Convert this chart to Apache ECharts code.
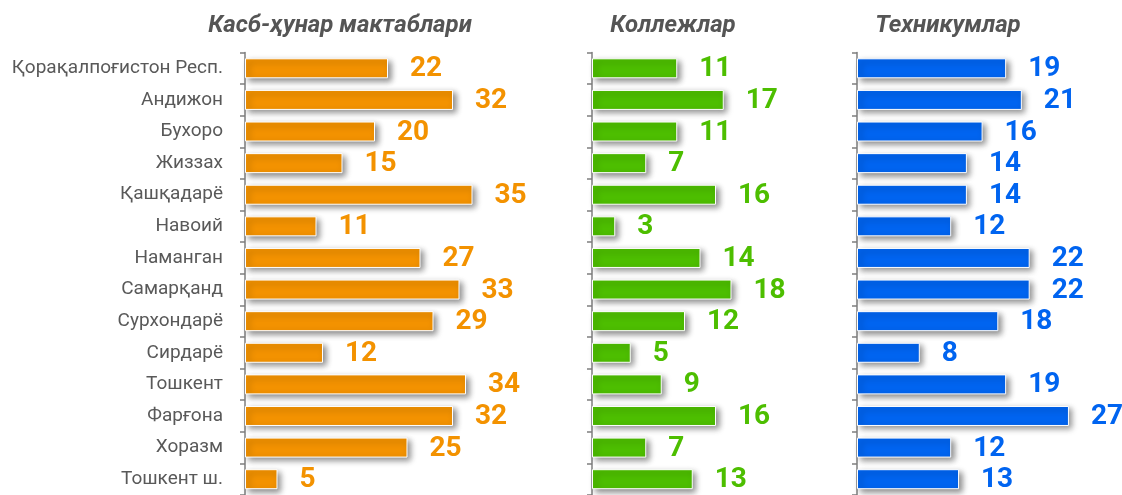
<!DOCTYPE html>
<html>
<head>
<meta charset="utf-8">
<script src="https://cdn.jsdelivr.net/npm/echarts@6/dist/echarts.min.js"></script>
<style>
html, body { margin: 0; padding: 0; background: #fff; }
#chart { width: 1122px; height: 495px; }
</style>
</head>
<body>
<div id="chart"></div>
<script>
// viloyatlar
var regions = ['Қорақалпоғистон Респ.', 'Андижон', 'Бухоро', 'Жиззах', 'Қашқадарё', 'Навоий', 'Наманган',
  'Самарқанд', 'Сурхондарё', 'Сирдарё', 'Тошкент', 'Фарғона', 'Хоразм', 'Тошкент ш.'];
var titles = ['Касб-ҳунар мактаблари', 'Коллежлар', 'Техникумлар'];
var kasbHunar = [22, 32, 20, 15, 35, 11, 27, 33, 29, 12, 34, 32, 25, 5];
var kollej = [11, 17, 11, 7, 16, 3, 14, 18, 12, 5, 9, 16, 7, 13];
var texnikum = [19, 21, 16, 14, 14, 12, 22, 22, 18, 8, 19, 27, 12, 13];

var colors = ['#F39200', '#4DBE00', '#0064F0'];

var myChart = echarts.init(document.getElementById('chart'));

function yAx(idx, showLabels) {
  return {
    type: 'category', gridIndex: idx, inverse: true, data: regions,
    axisLine: { lineStyle: { color: '#7f7f7f', width: 1.5 } },
    axisTick: { show: true, length: 5, lineStyle: { color: '#7f7f7f', width: 1.5 } },
    axisLabel: { show: showLabels, color: '#595959', fontSize: 19, margin: 22, fontFamily: 'Roboto', padding: [2, 0, 0, 0] }
  };
}
function xAx(idx, max) {
  return { type: 'value', gridIndex: idx, min: 0, max: max, show: false };
}
function bar(idx, data) {
  return {
    type: 'bar', xAxisIndex: idx, yAxisIndex: idx, data: data, barWidth: 20,
    itemStyle: {
      color: colors[idx], borderColor: '#fff', borderWidth: 1,
      shadowColor: 'rgba(0,0,0,0.45)', shadowBlur: 6, shadowOffsetX: 3, shadowOffsetY: 3
    },
    label: {
      show: true, position: 'right', distance: 22, offset: [0, 1], color: colors[idx],
      fontSize: 28, fontWeight: 'bold', fontFamily: 'Roboto'
    }
  };
}

var option = {
  animation: false,
  title: [
    { text: titles[0], left: 335, top: 9, textAlign: 'center' },
    { text: titles[1], left: 668, top: 9, textAlign: 'center' },
    { text: titles[2], left: 943, top: 9, textAlign: 'center' }
  ].map(function (t) {
    t.textStyle = { color: '#555', fontSize: 24, fontWeight: 'bold', fontStyle: 'italic', fontFamily: 'Roboto' };
    return t;
  }),
  grid: [
    { left: 245, top: 52.5, width: 260, height: 445 },
    { left: 592, top: 52.5, width: 155, height: 445 },
    { left: 857, top: 52.5, width: 235.5, height: 445 }
  ],
  xAxis: [xAx(0, 40), xAx(1, 20), xAx(2, 30)],
  yAxis: [yAx(0, true), yAx(1, false), yAx(2, false)],
  series: [bar(0, kasbHunar), bar(1, kollej), bar(2, texnikum)]
};
myChart.setOption(option);
</script>
</body>
</html>
